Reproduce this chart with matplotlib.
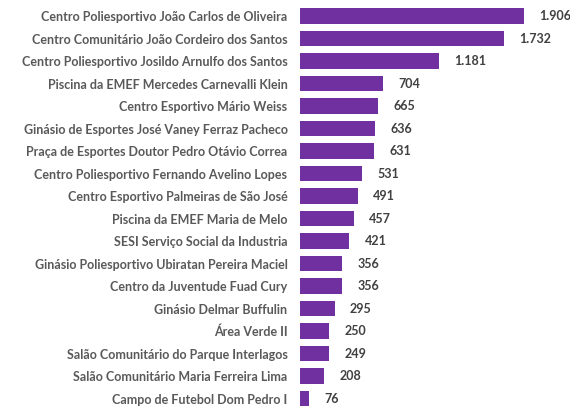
import matplotlib
matplotlib.use('Agg')
from matplotlib import pyplot as plt

locais = [
    'Centro Poliesportivo João Carlos de Oliveira',
    'Centro Comunitário João Cordeiro dos Santos',
    'Centro Poliesportivo Josildo Arnulfo dos Santos',
    'Piscina da EMEF Mercedes Carnevalli Klein',
    'Centro Esportivo Mário Weiss',
    'Ginásio de Esportes José Vaney Ferraz Pacheco',
    'Praça de Esportes Doutor Pedro Otávio Correa',
    'Centro Poliesportivo Fernando Avelino Lopes',
    'Centro Esportivo Palmeiras de São José',
    'Piscina da EMEF Maria de Melo',
    'SESI Serviço Social da Industria',
    'Ginásio Poliesportivo Ubiratan Pereira Maciel',
    'Centro da Juventude Fuad Cury',
    'Ginásio Delmar Buffulin',
    'Área Verde II',
    'Salão Comunitário do Parque Interlagos',
    'Salão Comunitário Maria Ferreira Lima',
    'Campo de Futebol Dom Pedro I',
]
valores = [1906, 1732, 1181, 704, 665, 636, 631, 531, 491, 457, 421, 356, 356, 295, 250, 249, 208, 76]
rotulos = ['1.906', '1.732', '1.181', '704', '665', '636', '631', '531', '491',
           '457', '421', '356', '356', '295', '250', '249', '208', '76']

plt.rcParams['font.family'] = ['Lato', 'DejaVu Sans']

fig = plt.figure(figsize=(5.7, 4.08), dpi=100)
ax = fig.add_axes([300 / 570, 0, 270 / 570, 1])

pos = list(range(len(locais)))
ax.barh(pos, valores, height=0.67, color='#7030A0')

# escala: 224 px para 1906
ax.set_xlim(0, 270 / (224 / 1906))
ax.set_ylim((408 - 16) / 22.5, -16 / 22.5)

for i, (v, r) in enumerate(zip(valores, rotulos)):
    ax.annotate(r, (v, i), xytext=(11, 0), textcoords='offset points',
                va='center', ha='left', fontsize=9, fontweight='bold', color='#404040')

ax.set_yticks(pos)
ax.set_yticklabels(locais, fontsize=9, fontweight='bold', color='#595959')
ax.tick_params(axis='y', length=0, pad=9)
ax.set_xticks([])
for s in ax.spines.values():
    s.set_visible(False)

fig.savefig('out.png', dpi=100)
